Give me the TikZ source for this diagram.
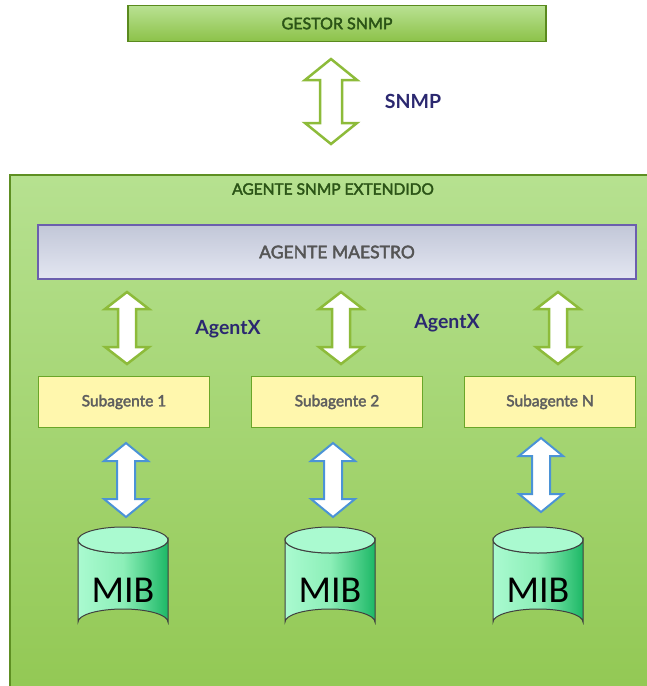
\documentclass[tikz,border=0pt]{standalone}
\usepackage{fontspec}
\setmainfont{Lato}
\newfontfamily\semifont[FakeBold=2.5]{Lato}
\newfontfamily\mibfont{Carlito}
\begin{document}
\begin{tikzpicture}[x=1pt,y=-1pt,
  gestorbox/.style={draw=gestorline,line width=1.5pt,top color=gestortop,bottom color=gestorbot},
  outerbox/.style={draw=outerline,line width=1.5pt,top color=outertop,bottom color=outerbot},
  maestrobox/.style={draw=maestroline,line width=1.5pt,top color=maestrotop,bottom color=maestrobot,
    font=\semifont\fontsize{17.5}{20}\selectfont,text=textgray},
  subbox/.style={draw=subline,line width=1.5pt,fill=subfill,minimum width=171pt,minimum height=51pt,
    inner sep=0pt,font=\semifont\fontsize{15.5}{18}\selectfont,text=subtext},
  linklabel/.style={font=\fontsize{19.5}{22}\selectfont\bfseries,text=navy},
  snmparrow/.style={draw=arrowgreen,line width=2.5pt,fill=white,line join=miter},
  agentxarrow/.style={draw=arrowgreen,line width=2.5pt,fill=white,line join=miter},
  mibarrow/.style={draw=arrowblue,line width=2pt,fill=white,line join=miter},
  cylbody/.style={draw=cylline,line width=1pt,left color=mintlight,right color=mintdark,middle color=mintmid},
  cyltop/.style={draw=cylline,line width=1pt,fill=mintlight},
]
\definecolor{gestorline}{HTML}{5A8A1E}
\definecolor{gestortop}{HTML}{B9E192}
\definecolor{gestorbot}{HTML}{8CC249}
\definecolor{greentext}{HTML}{2B5416}
\definecolor{outerline}{HTML}{5E8F22}
\definecolor{outertop}{HTML}{B6E190}
\definecolor{outerbot}{HTML}{92C853}
\definecolor{maestroline}{HTML}{6B5FAE}
\definecolor{maestrotop}{HTML}{C2C7D8}
\definecolor{maestrobot}{HTML}{E3E6F1}
\definecolor{subline}{HTML}{6AA628}
\definecolor{subfill}{HTML}{FFF7AD}
\definecolor{subtext}{HTML}{5F5F5F}
\definecolor{textgray}{HTML}{555555}
\definecolor{navy}{HTML}{2B2870}
\definecolor{arrowgreen}{HTML}{8DBB3A}
\definecolor{arrowblue}{HTML}{4B93D6}
\definecolor{cylline}{HTML}{404040}
\definecolor{mintlight}{HTML}{AAFAD0}
\definecolor{mintmid}{HTML}{8CEFB8}
\definecolor{mintdark}{HTML}{1DB866}

% block double arrow: style, centre x, top tip, bottom tip, half head, half shaft, head length
\newcommand{\bidiarrow}[7]{%
  \draw[#1] (#2,#3) -- (#2+#5,#3+#7) -- (#2+#6,#3+#7) -- (#2+#6,#4-#7)
    -- (#2+#5,#4-#7) -- (#2,#4) -- (#2-#5,#4-#7) -- (#2-#6,#4-#7)
    -- (#2-#6,#3+#7) -- (#2-#5,#3+#7) -- cycle;}
% database cylinder: name, centre x, top, bottom, half width, ellipse radius
\newcommand{\mibcyl}[6]{%
  \draw[cylbody] (#2-#5,#3+#6) -- (#2-#5,#4-#6) arc[start angle=180,end angle=360,x radius=#5,y radius=#6]
    -- (#2+#5,#3+#6) arc[start angle=0,end angle=180,x radius=#5,y radius=#6] -- cycle;
  \draw[cyltop] (#2,#3+#6) ellipse[x radius=#5,y radius=#6];
  \node[font=\mibfont\fontsize{38}{42}\selectfont] (#1) at (#2,{(#3+#4)/2+9}) {MIB};}

\useasboundingbox (0,0) rectangle (647,686);
\clip (0,0) rectangle (647,686);

% manager
\node[gestorbox,minimum width=418pt,minimum height=36pt,inner sep=0pt,
  font=\semifont\fontsize{16}{18}\selectfont,text=greentext] (gestor) at (337,23.5) {GESTOR SNMP};
\bidiarrow{snmparrow}{331}{59}{144}{26}{11}{21}
\node[linklabel] (snmp) at (413,101) {SNMP};

% extended agent
\draw[outerbox] (10,175) rectangle (660,700);
\node[font=\semifont\fontsize{15.5}{18}\selectfont,text=greentext] (ext) at (333,189) {AGENTE SNMP EXTENDIDO};
\node[maestrobox,minimum width=598pt,minimum height=54pt,inner sep=0pt] (maestro) at (337,252) {AGENTE MAESTRO};

\bidiarrow{agentxarrow}{127}{292}{364}{22}{9}{17}
\bidiarrow{agentxarrow}{341}{292}{364}{22}{9}{17}
\bidiarrow{agentxarrow}{558}{292}{364}{22}{9}{17}
\node[linklabel] (ax1) at (228,329) {AgentX};
\node[linklabel] (ax2) at (447,323) {AgentX};

\node[subbox] (sub1) at (124,402) {Subagente 1};
\node[subbox] (sub2) at (337,402) {Subagente 2};
\node[subbox] (subn) at (550,402) {Subagente N};

\bidiarrow{mibarrow}{126}{443}{517}{22}{9}{18}
\bidiarrow{mibarrow}{333}{443}{517}{22}{9}{18}
\bidiarrow{mibarrow}{541}{438}{512}{22}{9}{18}

\mibcyl{mib1}{123}{527}{635}{45}{13}
\mibcyl{mib2}{330}{527}{635}{45}{13}
\mibcyl{mibn}{538}{527}{635}{45}{13}
\end{tikzpicture}
\end{document}
